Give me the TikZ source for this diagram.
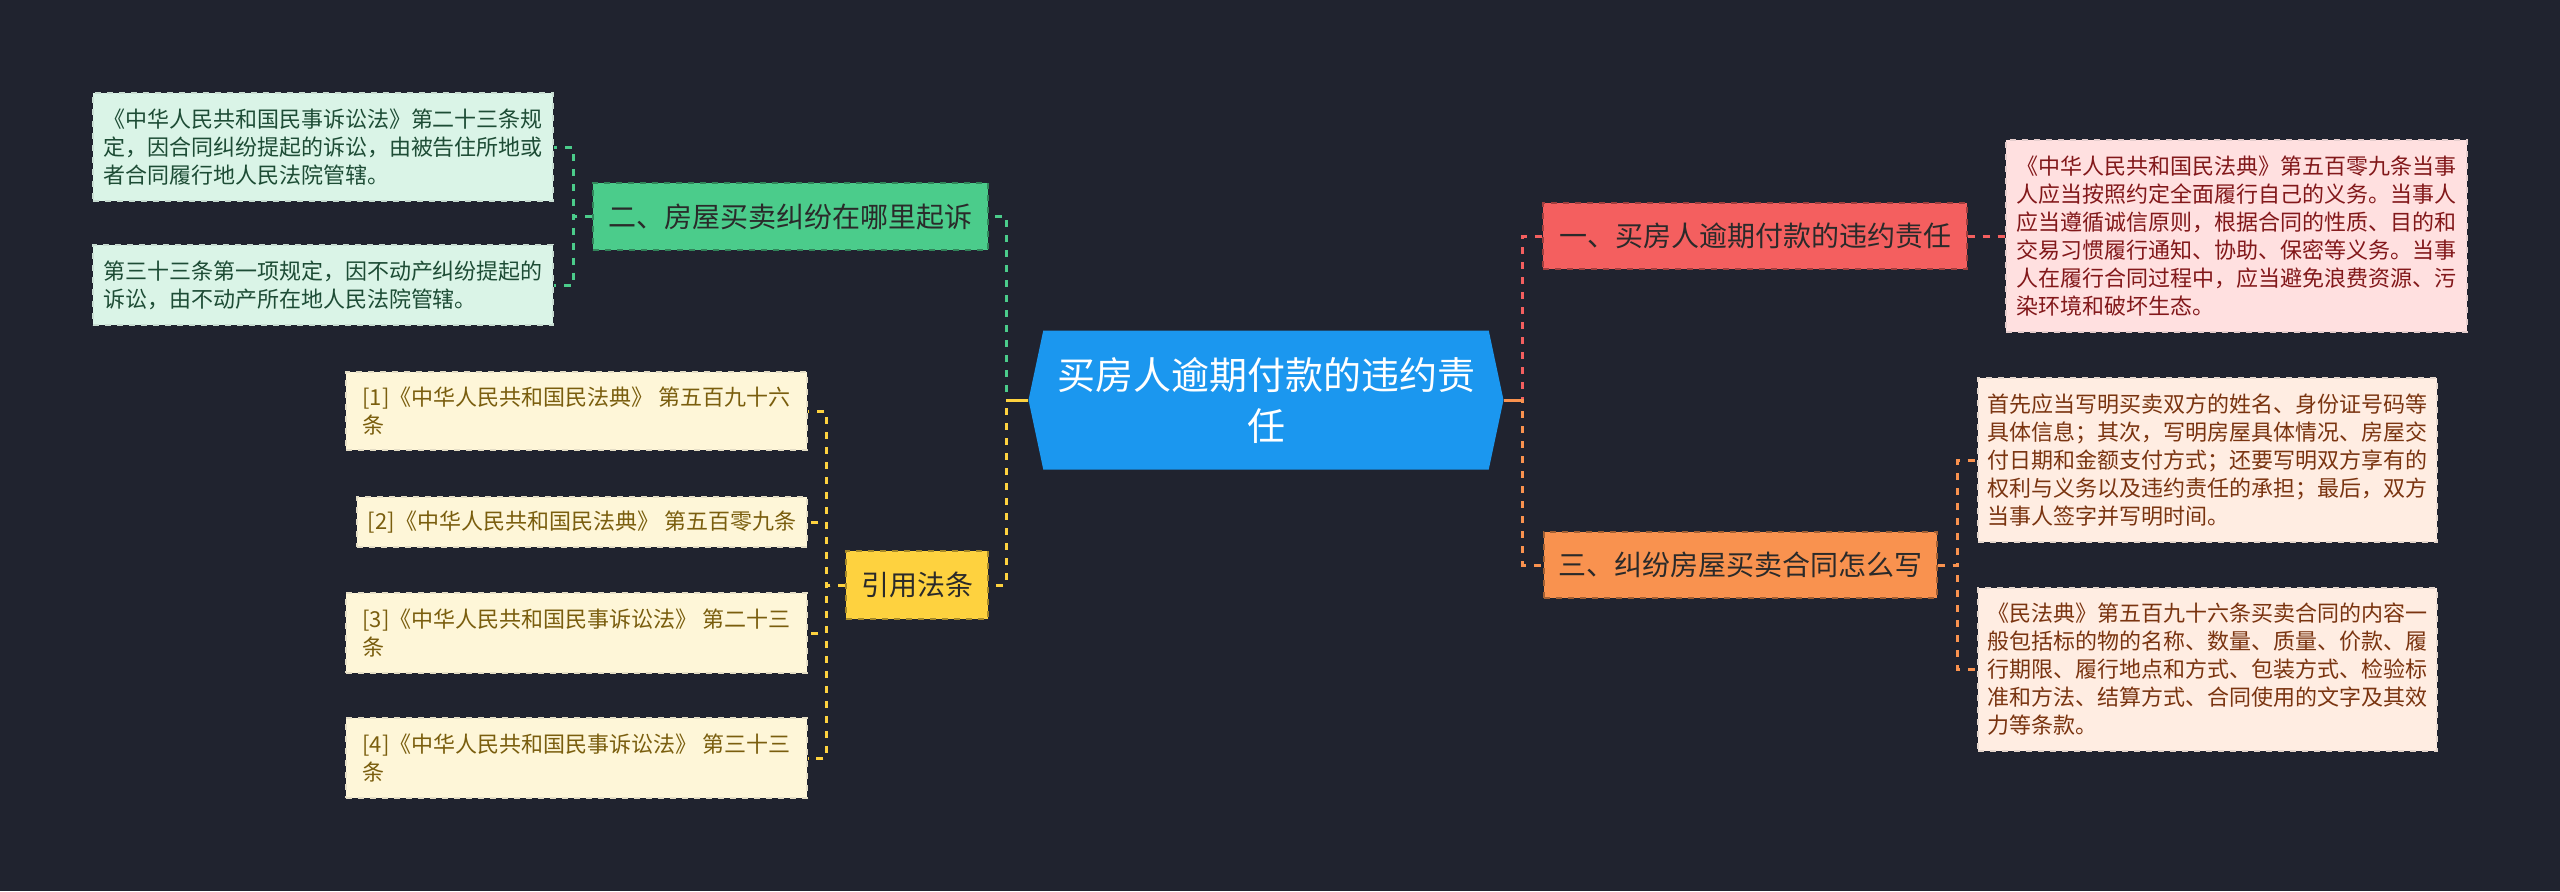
\documentclass[tikz,border=0pt]{standalone}
\usepackage{fontspec}
\setmainfont{Noto Sans CJK SC}
\usetikzlibrary{shapes.symbols}

\definecolor{bgnavy}{HTML}{20232F}
\definecolor{rootblue}{HTML}{1B97EF}
\definecolor{topicred}{HTML}{F45F5F}
\definecolor{topicgreen}{HTML}{4BCC8B}
\definecolor{topicorange}{HTML}{F9924F}
\definecolor{topicyellow}{HTML}{FED23F}
\definecolor{leafpink}{HTML}{FFE0E0}
\definecolor{leafmint}{HTML}{DAF4E7}
\definecolor{leafpeach}{HTML}{FFEDE2}
\definecolor{leafcream}{HTML}{FEF6D8}
\definecolor{inkred}{HTML}{82181A}
\definecolor{inkgreen}{HTML}{1D4C35}
\definecolor{inkbrown}{HTML}{7A3410}
\definecolor{inkolive}{HTML}{7A5E0E}
\definecolor{inkdark}{HTML}{2A2A2A}

\tikzset{
  root/.style={shape=signal, signal to=east and west, signal pointer angle=156,
    fill=rootblue, text=white, align=center, inner sep=0pt,
    minimum width=237.5pt, minimum height=69.5pt,
    font=\fontsize{19}{25.5}\selectfont},
  topic/.style={draw=#1!65!black, fill=#1, dashed, line width=0.6pt,
    text=inkdark, inner sep=0pt, font=\fontsize{14}{17}\selectfont},
  leaf/.style={draw=#1!80!gray, fill=#1, dashed, line width=0.6pt,
    align=left, inner sep=0pt, font=\fontsize{11}{14}\selectfont},
  link/.style={draw=#1, dash pattern=on 3.5pt off 4pt, line width=1.5pt},
  stem/.style={draw=#1, line width=1.5pt},
}

\begin{document}
\begin{tikzpicture}[x=0.5pt,y=-0.5pt]
  \useasboundingbox (0,0) rectangle (2560,891);
  \fill[bgnavy] (0,0) rectangle (2560,891);

  % centre
  \node[root] (root) at (1266,400) {买房人逾期付款的违约责\\任};

  % first level
  \node[topic=topicred, minimum width=212pt, minimum height=33pt] (n1) at (1755,236) {一、买房人逾期付款的违约责任};
  \node[topic=topicgreen, minimum width=197.5pt, minimum height=33.5pt] (n2) at (790.5,216.5) {二、房屋买卖纠纷在哪里起诉};
  \node[topic=topicorange, minimum width=196.5pt, minimum height=33pt] (n3) at (1740.5,565) {三、纠纷房屋买卖合同怎么写};
  \node[topic=topicyellow, minimum width=71pt, minimum height=34pt] (refs) at (917,585) {引用法条};

  % leaves
  \node[leaf=leafpink, text=inkred, minimum width=230.5pt, minimum height=96pt] (p1) at (2236.5,236)
    {《中华人民共和国民法典》第五百零九条当事\\人应当按照约定全面履行自己的义务。当事人\\应当遵循诚信原则，根据合同的性质、目的和\\交易习惯履行通知、协助、保密等义务。当事\\人在履行合同过程中，应当避免浪费资源、污\\染环境和破坏生态。};
  \node[leaf=leafmint, text=inkgreen, minimum width=230pt, minimum height=54pt] (g1) at (323,147)
    {《中华人民共和国民事诉讼法》第二十三条规\\定，因合同纠纷提起的诉讼，由被告住所地或\\者合同履行地人民法院管辖。};
  \node[leaf=leafmint, text=inkgreen, minimum width=230pt, minimum height=40pt] (g2) at (323,285)
    {第三十三条第一项规定，因不动产纠纷提起的\\诉讼，由不动产所在地人民法院管辖。};
  \node[leaf=leafpeach, text=inkbrown, minimum width=229.5pt, minimum height=82pt] (o1) at (2207.5,460)
    {首先应当写明买卖双方的姓名、身份证号码等\\具体信息；其次，写明房屋具体情况、房屋交\\付日期和金额支付方式；还要写明双方享有的\\权利与义务以及违约责任的承担；最后，双方\\当事人签字并写明时间。};
  \node[leaf=leafpeach, text=inkbrown, minimum width=229.5pt, minimum height=81.5pt] (o2) at (2207.5,669.5)
    {《民法典》第五百九十六条买卖合同的内容一\\般包括标的物的名称、数量、质量、价款、履\\行期限、履行地点和方式、包装方式、检验标\\准和方法、结算方式、合同使用的文字及其效\\力等条款。};
  \node[leaf=leafcream, text=inkolive, minimum width=230.5pt, minimum height=39pt] (y1) at (576.5,411)
    {[1]《中华人民共和国民法典》 第五百九十六\\条};
  \node[leaf=leafcream, text=inkolive, minimum width=225pt, minimum height=25pt] (y2) at (582,522)
    {[2]《中华人民共和国民法典》 第五百零九条};
  \node[leaf=leafcream, text=inkolive, minimum width=230.5pt, minimum height=40pt] (y3) at (576.5,633)
    {[3]《中华人民共和国民事诉讼法》 第二十三\\条};
  \node[leaf=leafcream, text=inkolive, minimum width=230.5pt, minimum height=40pt] (y4) at (576.5,758)
    {[4]《中华人民共和国民事诉讼法》 第三十三\\条};

  % connectors
  \draw[link=topicgreen] (root.west) -- ++(-22,0) |- (n2.east);
  \draw[link=topicyellow] (root.west) -- ++(-22,0) |- (refs.east);
  \draw[link=topicred] (root.east) -- ++(19,0) |- (n1.west);
  \draw[link=topicorange] (root.east) -- ++(19,0) |- (n3.west);
  \draw[stem=topicyellow] (root.west) -- ++(-22,0);
  \draw[stem=topicorange] (root.east) -- ++(19,0);

  \draw[link=topicred] (n1.east) -- (p1.west);
  \foreach \leaf in {g1,g2}
    \draw[link=topicgreen] (n2.west) -- ++(-19,0) |- (\leaf.east);
  \foreach \leaf in {o1,o2}
    \draw[link=topicorange] (n3.east) -- ++(20,0) |- (\leaf.west);
  \foreach \leaf in {y1,y2,y3,y4}
    \draw[link=topicyellow] (refs.west) -- ++(-19,0) |- (\leaf.east);
\end{tikzpicture}
\end{document}
